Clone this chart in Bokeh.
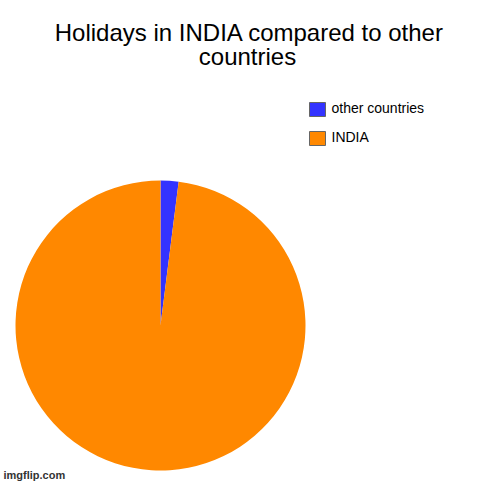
import math
from bokeh.plotting import figure
from bokeh.models import Range1d, ColumnDataSource
from bokeh.core.properties import value
from bokeh.embed import file_html
from bokeh.resources import INLINE

title_lines = ["Holidays in INDIA compared to other", "countries"]
categories = ["other countries", "INDIA"]
values = [2, 98]
colors = ["#3333FF", "#FF8800"]

W = H = 484
def Y(py):
    # convert a pixel row (from top) into data y (y axis upward)
    return H - py

p = figure(width=W, height=H, output_backend="svg", toolbar_location=None,
           x_range=Range1d(0, W), y_range=Range1d(0, H),
           min_border=0, outline_line_color=None)
p.axis.visible = False
p.grid.visible = False
p.background_fill_color = "white"
p.border_fill_color = "white"

# pie
total = sum(values)
starts, ends = [], []
acc = 0.0
for v in values:
    a0 = math.pi / 2 - 2 * math.pi * acc / total
    acc += v
    a1 = math.pi / 2 - 2 * math.pi * acc / total
    starts.append(a0)
    ends.append(a1)
src = ColumnDataSource(dict(cat=categories, val=values, start=starts, end=ends, color=colors))
p.wedge(x=160, y=Y(325), radius=145, start_angle="start", end_angle="end",
        direction="clock", fill_color="color", line_color=None, source=src)

# title
p.text(x=[249, 247], y=[Y(31.5), Y(56)], text=title_lines, text_align="center",
       text_baseline="alphabetic", text_font=value("Liberation Sans"),
       text_font_size="24px", text_color="#000000")

# legend
ly = [Y(109), Y(138)]
p.rect(x=[317] * len(categories), y=ly, width=16, height=14, fill_color=colors,
       line_color="#666666", line_width=1)
p.text(x=[331] * len(categories), y=[Y(107), Y(136)], text=categories,
       text_align="left", text_baseline="alphabetic",
       text_font=value("Liberation Sans"), text_font_size="14px", text_color="#000000")

# watermark
p.text(x=[3], y=[Y(474)], text=["imgflip.com"], text_align="left",
       text_baseline="alphabetic", text_font=value("Liberation Sans"),
       text_font_size="11px", text_font_style="bold", text_color="#333333")

open("out.html", "w").write(file_html(p, INLINE))
